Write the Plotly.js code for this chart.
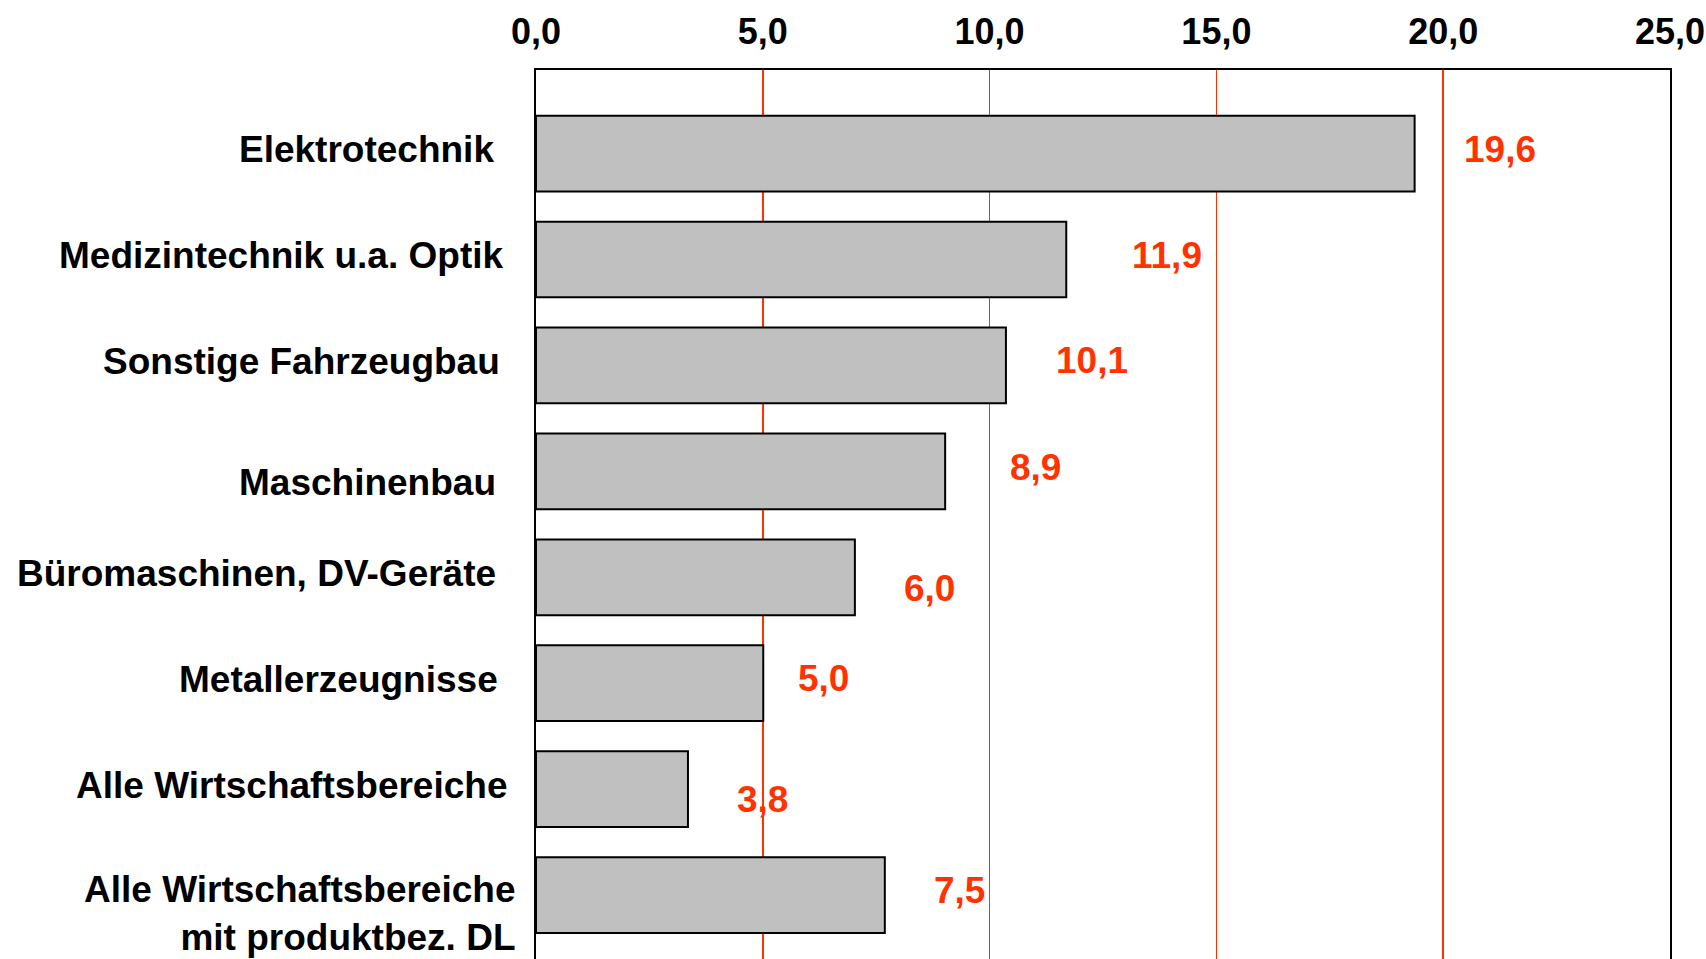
<!DOCTYPE html>
<html>
<head>
<meta charset="utf-8">
<script src="https://cdn.plot.ly/plotly-3.0.1.min.js"></script>
<style>html,body{margin:0;padding:0;background:#fff;}#chart{width:1706px;height:959px;}</style>
</head>
<body>
<div id="chart"></div>
<script>
// Data
var categories = [
  'Elektrotechnik',
  'Medizintechnik u.a. Optik',
  'Sonstige Fahrzeugbau',
  'Maschinenbau',
  'Büromaschinen, DV-Geräte',
  'Metallerzeugnisse',
  'Alle Wirtschaftsbereiche',
  'Alle Wirtschaftsbereiche<br>mit produktbez. DL'
];
var barValues = [19.37, 11.69, 10.36, 9.02, 7.03, 5.01, 3.35, 7.69];
var valueLabels = ['19,6', '11,9', '10,1', '8,9', '6,0', '5,0', '3,8', '7,5'];
var xTickValues = [0, 5, 10, 15, 20, 25];
var xTickLabels = ['0,0', '5,0', '10,0', '15,0', '20,0', '25,0'];

// Styling: pixel offsets of the text labels
var valueShiftX = [47, 64, 48, 63, 47, 33, 47, 47];
var valueShiftY = [4, 4, 5, 4, -11, 5, -10, 5];
var catShiftX = [-40, -31, -34, -38, -38, -36, -27, -19];
var catShiftY = [4, 4, 4, -11, 4, 4, 4, -18];

var RED = '#FF3300';
var FONT = 'Liberation Sans, Arial, sans-serif';
var FS = 37;

var trace = {
  type: 'bar',
  orientation: 'h',
  x: barValues,
  y: categories,
  marker: {color: '#C0C0C0', line: {color: '#000000', width: 2}},
  hoverinfo: 'none'
};

var annotations = [];
categories.forEach(function (c, i) {
  annotations.push({
    x: barValues[i], y: c, xref: 'x', yref: 'y',
    text: valueLabels[i], showarrow: false,
    xanchor: 'left', yanchor: 'middle',
    xshift: valueShiftX[i], yshift: valueShiftY[i],
    font: {family: FONT, size: FS, color: RED, weight: 'bold'}
  });
  annotations.push({
    x: 0, y: c, xref: 'paper', yref: 'y',
    text: c, showarrow: false, align: 'right',
    xanchor: 'right', yanchor: 'middle',
    xshift: catShiftX[i], yshift: catShiftY[i],
    font: {family: FONT, size: FS, color: '#000000', weight: 'bold'}
  });
});

var layout = {
  width: 1706, height: 959,
  margin: {l: 536, r: 36, t: 70, b: 0, pad: 0},
  paper_bgcolor: '#ffffff', plot_bgcolor: '#ffffff',
  showlegend: false,
  bargap: 0.285,
  xaxis: {
    side: 'top', range: [0, 25],
    tickvals: xTickValues, ticktext: xTickLabels,
    showgrid: true, gridcolor: RED, gridwidth: 1.5,
    zeroline: false,
    showline: true, linecolor: '#000000', linewidth: 2, mirror: false,
    ticks: '', ticklabelstandoff: 10, ticklabeloverflow: 'allow',
    tickfont: {family: FONT, size: 36, color: '#000000', weight: 'bold'},
    fixedrange: true
  },
  yaxis: {
    type: 'category',
    range: [7.604, -0.789],
    showgrid: false, zeroline: false,
    showline: true, linecolor: '#000000', linewidth: 2, mirror: true,
    ticks: '', showticklabels: false,
    fixedrange: true
  },
  annotations: annotations
};

Plotly.newPlot('chart', [trace], layout, {displayModeBar: false, staticPlot: true});
</script>
</body>
</html>
